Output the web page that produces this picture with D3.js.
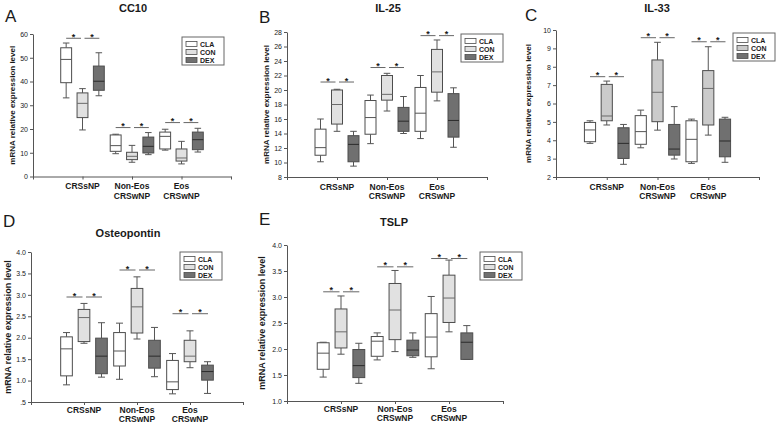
<!DOCTYPE html>
<html><head><meta charset="utf-8">
<script src="https://cdn.jsdelivr.net/npm/d3@7"></script>
<style>
body{margin:0;background:#fff}
svg{display:block}
text{font-family:"Liberation Sans",Arial,Helvetica,sans-serif;fill:#1a1a1a}
</style>
</head><body>
<svg id="chart" width="778" height="425"></svg>
<script>
// ---------- DATA ----------
const treatments = ["CLA", "CON", "DEX"];
const categories = [["CRSsNP"], ["Non-Eos", "CRSwNP"], ["Eos", "CRSwNP"]];
// each row: [whiskerLow, Q1, median, Q3, whiskerHigh] for CRSsNP, Non-Eos, Eos
const cc10CLA = [[33.1, 39.5, 49.3, 54.2, 56.2], [9.6, 10.6, 13.0, 17.5, 17.8], [11.1, 11.6, 16.9, 18.7, 19.9]];
const cc10CON = [[19.6, 24.8, 30.8, 35.2, 37.0], [6.0, 7.1, 8.5, 10.2, 13.1], [5.3, 6.5, 7.8, 11.6, 14.8]];
const cc10DEX = [[34.0, 36.3, 40.1, 46.5, 52.1], [9.2, 9.9, 12.7, 16.6, 18.5], [10.3, 11.3, 15.5, 18.7, 20.3]];
const cc10Sig = [58.2, 20.6, 22.7];
const cc10Ticks = [0, 10, 20, 30, 40, 50, 60];

const il25CLA = [[10.1, 11.0, 12.05, 14.6, 16.0], [12.6, 13.9, 16.2, 18.55, 19.3], [13.3, 14.3, 16.8, 20.35, 22.0]];
const il25CON = [[14.3, 15.3, 18.0, 20.0, 20.1], [17.1, 18.6, 19.4, 22.0, 22.3], [18.5, 19.7, 22.5, 25.6, 26.9]];
const il25DEX = [[9.5, 10.1, 12.5, 13.7, 14.3], [14.0, 14.3, 15.7, 17.6, 19.1], [12.1, 13.5, 15.8, 19.5, 20.3]];
const il25Sig = [21.1, 23.1, 27.5];
const il25Ticks = [8, 10, 12, 14, 16, 18, 20, 22, 24, 26, 28];

const il33CLA = [[3.83, 3.92, 4.56, 4.97, 5.06], [3.59, 3.78, 4.47, 5.34, 5.64], [2.74, 2.83, 4.05, 5.06, 5.15]];
const il33CON = [[4.83, 5.06, 5.32, 7.04, 7.22], [4.55, 5.01, 6.61, 8.37, 9.33], [4.28, 4.83, 6.82, 7.79, 9.09]];
const il33DEX = [[2.69, 3.01, 3.83, 4.68, 4.86], [2.98, 3.19, 3.52, 4.86, 5.83], [2.80, 3.10, 3.96, 5.15, 5.25]];
const il33Sig = [7.46, 9.58, 9.36];
const il33Ticks = [2, 3, 4, 5, 6, 7, 8, 9, 10];

const opnCLA = [[0.90, 1.11, 1.74, 2.02, 2.12], [1.03, 1.34, 1.69, 2.12, 2.34], [0.69, 0.79, 0.97, 1.47, 1.63]];
const opnCON = [[1.87, 1.91, 2.47, 2.66, 2.80], [1.97, 2.11, 2.72, 3.15, 3.42], [1.30, 1.44, 1.57, 1.94, 2.16]];
const opnDEX = [[1.08, 1.16, 1.57, 1.99, 2.35], [1.09, 1.29, 1.57, 1.94, 2.24], [0.70, 1.01, 1.21, 1.36, 1.44]];
const opnSig = [2.95, 3.58, 2.56];
const opnTicks = [0.5, 1.0, 1.5, 2.0, 2.5, 3.0, 3.5, 4.0];

const tslpCLA = [[1.46, 1.61, 1.92, 2.12, 2.13], [1.79, 1.86, 2.15, 2.24, 2.31], [1.62, 1.85, 2.23, 2.68, 3.01]];
const tslpCON = [[1.90, 2.02, 2.33, 2.77, 3.02], [1.95, 2.18, 2.75, 3.26, 3.51], [2.33, 2.51, 2.98, 3.42, 3.71]];
const tslpDEX = [[1.34, 1.45, 1.68, 1.99, 2.11], [1.84, 1.87, 1.98, 2.17, 2.31], [1.80, 1.80, 2.13, 2.31, 2.45]];
const tslpSig = [3.10, 3.58, 3.74];
const tslpTicks = [1.0, 1.5, 2.0, 2.5, 3.0, 3.5, 4.0];

// ---------- LAYOUT / STYLE ----------
const fmtInt = d => String(d);
const fmtDec = d => d === 0.5 ? ".5" : d.toFixed(1);

const panels = [
  {letter: "A", title: "CC10", data: [cc10CLA, cc10CON, cc10DEX], sig: cc10Sig, ticks: cc10Ticks, fmt: fmtInt,
   x0: 33, x1: 231, yTop: 34, yBot: 176.5, letterPos: [5, 22], titlePos: [133, 12], yTitleX: 12, yTitleSize: 8,
   legend: [182, 37], conFill: "#e1e1e1", labOff: 12.5, labGap: 9.5},
  {letter: "B", title: "IL-25", data: [il25CLA, il25CON, il25DEX], sig: il25Sig, ticks: il25Ticks, fmt: fmtInt,
   x0: 287, x1: 487, yTop: 32, yBot: 177, letterPos: [259, 23], titlePos: [388, 12], yTitleX: 266, yTitleSize: 8,
   legend: [461, 34], conFill: "#e1e1e1", labOff: 12.5, labGap: 9.5},
  {letter: "C", title: "IL-33", data: [il33CLA, il33CON, il33DEX], sig: il33Sig, ticks: il33Ticks, fmt: fmtInt,
   x0: 556, x1: 759, yTop: 30, yBot: 177, letterPos: [525, 21], titlePos: [657, 12], yTitleX: 528, yTitleSize: 8,
   legend: [733, 33], conFill: "#cbcbcb", labOff: 12.5, labGap: 9.5},
  {letter: "D", title: "Osteopontin", data: [opnCLA, opnCON, opnDEX], sig: opnSig, ticks: opnTicks, fmt: fmtDec,
   x0: 31, x1: 243, yTop: 252, yBot: 402, letterPos: [3, 227], titlePos: [128, 237], yTitleX: 8, yTitleSize: 9,
   legend: [180, 252], conFill: "#e1e1e1", labOff: 11, labGap: 9},
  {letter: "E", title: "TSLP", data: [tslpCLA, tslpCON, tslpDEX], sig: tslpSig, ticks: tslpTicks, fmt: fmtDec,
   x0: 287, x1: 503, yTop: 245, yBot: 401, letterPos: [259, 225], titlePos: [394, 226], yTitleX: 262, yTitleSize: 9,
   legend: [480, 252], conFill: "#e1e1e1", labOff: 11, labGap: 9}
];

const svg = d3.select("#chart");
const axisColor = "#555";
const boxStroke = "#4d4d4d";
const fillFor = (p, t) => t === 0 ? "#ffffff" : (t === 1 ? p.conFill : "#707070");
const medianColor = ["#555", "#6a6a6a", "#2b2b2b"];
const offsets = [-0.33, 0, 0.33];
const boxW = 0.22;

panels.forEach(p => {
  const g = svg.append("g");
  const x = d3.scaleLinear().domain([0, 4]).range([p.x0, p.x1]);
  const y = d3.scaleLinear().domain([p.ticks[0], p.ticks[p.ticks.length - 1]]).range([p.yBot, p.yTop]);

  // y axis
  const ya = g.append("g").attr("transform", `translate(${p.x0},0)`)
    .call(d3.axisLeft(y).tickValues(p.ticks).tickFormat(p.fmt).tickSize(3).tickSizeOuter(0).tickPadding(2));
  ya.select(".domain").attr("stroke", axisColor);
  ya.selectAll(".tick line").attr("stroke", axisColor);
  ya.selectAll(".tick text").attr("font-size", 7).attr("fill", "#222")
    .attr("font-family", '"Liberation Sans",Arial,sans-serif');

  // x axis
  const xa = g.append("g").attr("transform", `translate(0,${p.yBot})`)
    .call(d3.axisBottom(x).tickValues([0, 1, 2, 3, 4]).tickFormat("").tickSize(3).tickSizeOuter(0));
  xa.select(".domain").attr("stroke", axisColor);
  xa.selectAll(".tick line").attr("stroke", axisColor);

  // category labels
  categories.forEach((lines, i) => {
    const t = g.append("text").attr("x", x(i + 1)).attr("y", p.yBot + p.labOff)
      .attr("text-anchor", "middle").attr("font-size", 8.5).attr("font-weight", "bold");
    lines.forEach((ln, k) => t.append("tspan").attr("x", x(i + 1)).attr("dy", k === 0 ? 0 : p.labGap).text(ln));
  });

  // boxes
  const bw = x(boxW) - x(0);
  const capW = bw * 0.6;
  p.data.forEach((series, t) => {
    series.forEach((s, i) => {
      const cx = x(i + 1 + offsets[t]);
      const [lo, q1, med, q3, hi] = s;
      const bg = g.append("g");
      bg.append("line").attr("x1", cx).attr("x2", cx).attr("y1", y(hi)).attr("y2", y(q3)).attr("stroke", "#555");
      bg.append("line").attr("x1", cx).attr("x2", cx).attr("y1", y(q1)).attr("y2", y(lo)).attr("stroke", "#555");
      bg.append("line").attr("x1", cx - capW / 2).attr("x2", cx + capW / 2).attr("y1", y(hi)).attr("y2", y(hi)).attr("stroke", "#555");
      bg.append("line").attr("x1", cx - capW / 2).attr("x2", cx + capW / 2).attr("y1", y(lo)).attr("y2", y(lo)).attr("stroke", "#555");
      bg.append("rect").attr("x", cx - bw / 2).attr("y", y(q3)).attr("width", bw).attr("height", y(q1) - y(q3))
        .attr("fill", fillFor(p, t)).attr("stroke", boxStroke);
      bg.append("line").attr("x1", cx - bw / 2).attr("x2", cx + bw / 2).attr("y1", y(med)).attr("y2", y(med))
        .attr("stroke", medianColor[t]).attr("stroke-width", 1);
    });
  });

  // significance bars
  p.sig.forEach((lev, i) => {
    const xs = [0, 1, 2].map(t => x(i + 1 + offsets[t]));
    const yy = y(lev);
    const segs = [[xs[0], xs[1] - 1.5], [xs[1] + 2, xs[2] + 0.5]];
    segs.forEach(([a, b]) => {
      g.append("line").attr("x1", a).attr("x2", b).attr("y1", yy).attr("y2", yy).attr("stroke", "#666");
      g.append("text").attr("x", (a + b) / 2).attr("y", yy + 1.5).attr("text-anchor", "middle")
        .attr("font-size", 9).attr("font-weight", "bold").attr("fill", "#1a1a1a").text("*");
    });
  });

  // y title
  g.append("text").attr("transform", `translate(${p.yTitleX},${(p.yTop + p.yBot) / 2}) rotate(-90)`)
    .attr("text-anchor", "middle").attr("dominant-baseline", "central")
    .attr("font-size", p.yTitleSize).attr("font-weight", "bold").text("mRNA relative expression level");

  // panel title & letter
  g.append("text").attr("x", p.titlePos[0]).attr("y", p.titlePos[1]).attr("text-anchor", "middle")
    .attr("font-size", 11).attr("font-weight", "bold").text(p.title);
  g.append("text").attr("x", p.letterPos[0]).attr("y", p.letterPos[1])
    .attr("font-size", 17).text(p.letter);

  // legend
  const [lx, ly] = p.legend;
  const lg = g.append("g").attr("transform", `translate(${lx},${ly})`);
  lg.append("rect").attr("width", 42).attr("height", 28).attr("fill", "#fff").attr("stroke", "#666");
  treatments.forEach((tr, k) => {
    const ry = 7 + k * 8;
    lg.append("rect").attr("x", 4).attr("y", ry - 2.5).attr("width", 11).attr("height", 5)
      .attr("fill", fillFor(p, k)).attr("stroke", boxStroke).attr("stroke-width", 0.8);
    lg.append("text").attr("x", 18).attr("y", ry + 2.5).attr("font-size", 7).attr("font-weight", "bold").text(tr);
  });
});
</script>
</body></html>
